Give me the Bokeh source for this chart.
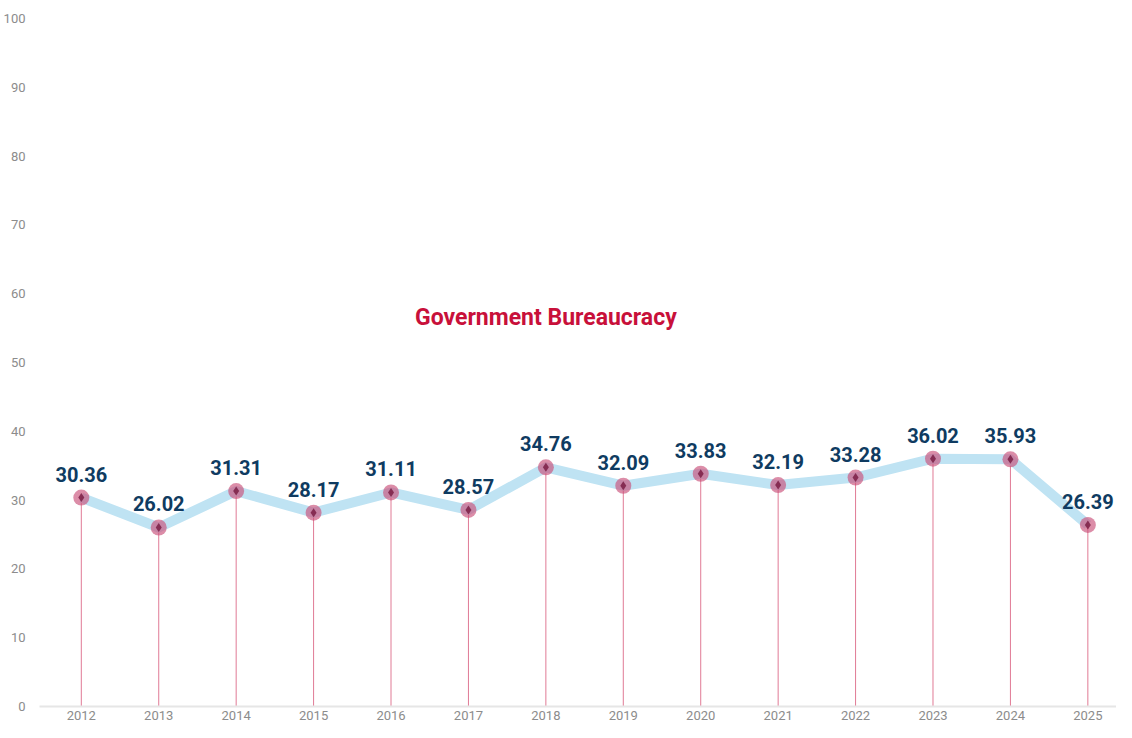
from bokeh.plotting import figure
from bokeh.models import ColumnDataSource, FixedTicker, Range1d, Label
from bokeh.core.properties import value
from bokeh.embed import file_html
from bokeh.resources import INLINE

years = [2012, 2013, 2014, 2015, 2016, 2017, 2018, 2019, 2020, 2021, 2022, 2023, 2024, 2025]
scores = [30.36, 26.02, 31.31, 28.17, 31.11, 28.57, 34.76, 32.09, 33.83, 32.19, 33.28, 36.02, 35.93, 26.39]
y_ticks = [0, 10, 20, 30, 40, 50, 60, 70, 80, 90, 100]
title_text = "Government Bureaucracy"

src = ColumnDataSource(dict(
    x=years, y=scores, zero=[0] * len(years),
    lab=["%.2f" % v for v in scores],
))

p = figure(width=1116, height=722, output_backend="svg", toolbar_location=None,
           x_range=Range1d(2011.46, 2025.37), y_range=Range1d(0, 100),
           min_border_top=18, min_border_left=0, min_border_right=0, min_border_bottom=0)
p.outline_line_color = None
p.background_fill_color = "white"
p.xgrid.grid_line_color = None
p.ygrid.grid_line_color = None

# axes
p.xaxis.ticker = FixedTicker(ticks=years)
p.xaxis.major_label_overrides = {y: str(y) for y in years}
p.xaxis.axis_line_color = "#e6e6e6"
p.xaxis.axis_line_width = 2
p.xaxis.major_tick_line_color = None
p.xaxis.minor_tick_line_color = None
p.xaxis.major_tick_in = 0
p.xaxis.major_tick_out = 0
p.xaxis.major_label_text_color = "#8c8c8c"
p.xaxis.major_label_text_font = "Roboto"
p.xaxis.major_label_text_font_size = "13px"
p.xaxis.major_label_standoff = 4

p.yaxis.ticker = FixedTicker(ticks=y_ticks)
p.yaxis.axis_line_color = None
p.yaxis.major_tick_line_color = None
p.yaxis.minor_tick_line_color = None
p.yaxis.major_tick_in = 0
p.yaxis.major_tick_out = 0
p.yaxis.major_label_text_color = "#8c8c8c"
p.yaxis.major_label_text_font = "Roboto"
p.yaxis.major_label_text_font_size = "13px"
p.yaxis.major_label_standoff = 14

# drop lines
p.segment(x0="x", y0="zero", x1="x", y1="y", source=src, line_color="#e07a95", line_width=1)
# main line
p.line(x="x", y="y", source=src, line_color="#bfe3f3", line_width=10, line_join="round")
# markers
p.scatter(x="x", y="y", source=src, marker="circle", size=16, fill_color="#c9507a",
          fill_alpha=0.65, line_color=None)
p.scatter(x="x", y="y", source=src, marker="diamond", size=9, fill_color="#7a1f45",
          fill_alpha=0.85, line_color=None)
# value labels
p.text(x="x", y="y", text="lab", source=src, text_align="center", text_baseline="bottom",
       y_offset=-16, text_color="#0f3b61", text_font=value("Roboto"),
       text_font_style="bold", text_font_size="20px")

p.add_layout(Label(x=2018, y=56.6, text=title_text, text_align="center", text_baseline="middle",
                   text_color="#c8103a", text_font="Roboto",
                   text_font_style="bold", text_font_size="23px"))

open("out.html", "w").write(file_html(p, INLINE))
